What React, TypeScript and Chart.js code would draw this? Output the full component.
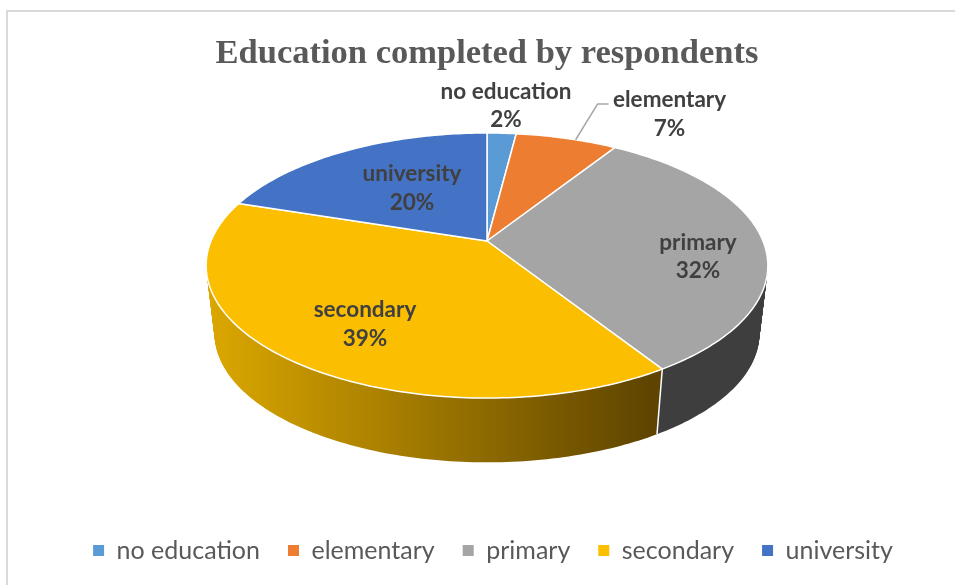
import React, { useEffect, useRef } from "react";
import { Chart, registerables } from "chart.js";

Chart.register(...registerables);

const categories = ["no education", "elementary", "primary", "secondary", "university"];
const shares = [2, 7, 32, 39, 20];
const sliceColors = ["#5B9BD5", "#ED7D31", "#A5A5A5", "#FBBE00", "#4472C4"];
// Side wall colours: left and right ends of the horizontal shading, per slice.
const wallLeft = ["#3A6A96", "#A65A22", "#444444", "#DCA800", "#30508A"];
const wallRight = ["#3A6A96", "#A65A22", "#3E3E3E", "#5E4400", "#30508A"];
const chartTitle = "Education completed by respondents";

// Geometry of the tilted disc, in canvas pixels.
const CX = 487;
const CY = 241;
const RX = 276;
const RY = 128;
const PERSPECTIVE = -0.185;
const DEPTH = 69;
const BOTTOM_SCALE = 0.97;
const WALL_LEFT_X = 205;
const WALL_RIGHT_X = 652;

// Label placement per slice: angle offset from the slice middle (degrees), radial fraction.
const labelTurn = [0.1, 13.7, 8.5, -3.2, 3.2];
const labelRadius = [1.326, 1.47, 0.757, 0.696, 0.544];
const LABEL_FONT = "bold 22.5px Lato";
const LABEL_COLOR = "#404040";
const LINE_GAP = 28.5;

function project(theta: number, t: number, level: number) {
  const u = t * Math.sin(theta);
  const v = -t * Math.cos(theta);
  const d = 1 + PERSPECTIVE * v;
  const s = 1 - (1 - BOTTOM_SCALE) * level;
  return {
    x: CX + (s * RX * u) / d,
    y: CY + (s * RY * v) / d + DEPTH * level,
  };
}

function slicePath(ctx: CanvasRenderingContext2D, a: number, b: number, level: number) {
  const c = project(0, 0, level);
  ctx.beginPath();
  ctx.moveTo(c.x, c.y);
  const steps = Math.max(2, Math.ceil(((b - a) * 180) / Math.PI));
  for (let i = 0; i <= steps; i++) {
    const p = project(a + ((b - a) * i) / steps, 1, level);
    ctx.lineTo(p.x, p.y);
  }
  ctx.closePath();
}

const tiltedPie = {
  id: "tiltedPie",
  afterLayout(chart: any) {
    // The legend row sits a little to the right of the title's centre.
    chart.legend.left += 6;
    chart.legend.right += 6;
  },
  beforeDraw(chart: any) {
    const { ctx, width, height } = chart;
    ctx.save();
    ctx.fillStyle = "#FFFFFF";
    ctx.fillRect(0, 0, width, height);
    ctx.strokeStyle = "#D9D9D9";
    ctx.lineWidth = 2;
    ctx.beginPath();
    ctx.moveTo(7, height);
    ctx.lineTo(7, 11);
    ctx.lineTo(width, 11);
    ctx.stroke();
    ctx.restore();
  },
  beforeDatasetDraw(chart: any) {
    const { ctx } = chart;
    const arcs = chart.getDatasetMeta(0).data;
    const spans = arcs.map((arc: any) => [arc.startAngle + Math.PI / 2, arc.endAngle + Math.PI / 2]);

    ctx.save();
    // Extruded wall: stacked copies of every slice from the bottom rim upward.
    const fills = spans.map((_: any, i: number) => {
      const g = ctx.createLinearGradient(WALL_LEFT_X, 0, WALL_RIGHT_X, 0);
      g.addColorStop(0, wallLeft[i]);
      g.addColorStop(1, wallRight[i]);
      return g;
    });
    for (let layer = DEPTH; layer >= 1; layer--) {
      spans.forEach(([a, b]: number[], i: number) => {
        slicePath(ctx, a, b, layer / DEPTH);
        ctx.fillStyle = fills[i];
        ctx.fill();
      });
    }

    // Seams between neighbouring walls on the near side.
    ctx.strokeStyle = "#FFFFFF";
    ctx.lineWidth = 1.5;
    spans.forEach(([a]: number[]) => {
      if (-Math.cos(a) > 0.1) {
        const top = project(a, 1, 0);
        const bottom = project(a, 1, 1);
        ctx.beginPath();
        ctx.moveTo(top.x, top.y);
        ctx.lineTo(bottom.x, bottom.y);
        ctx.stroke();
      }
    });

    // Top face.
    spans.forEach(([a, b]: number[], i: number) => {
      slicePath(ctx, a, b, 0);
      ctx.fillStyle = sliceColors[i];
      ctx.fill();
      ctx.strokeStyle = "#FFFFFF";
      ctx.lineWidth = 1.5;
      ctx.lineJoin = "round";
      ctx.stroke();
    });

    // Leader line for the label that sits away from its slice.
    const mid = (spans[1][0] + spans[1][1]) / 2 + 0.04;
    const from = project(mid, 1, 0);
    const anchor = project(mid - 0.04 + (labelTurn[1] * Math.PI) / 180, labelRadius[1], 0);
    ctx.strokeStyle = "#A6A6A6";
    ctx.lineWidth = 1.5;
    ctx.beginPath();
    ctx.moveTo(from.x, from.y);
    ctx.lineTo(anchor.x - 72, anchor.y - 9);
    ctx.lineTo(anchor.x - 61, anchor.y - 9);
    ctx.stroke();

    // Category and share labels.
    ctx.font = LABEL_FONT;
    ctx.fillStyle = LABEL_COLOR;
    ctx.textAlign = "center";
    ctx.textBaseline = "middle";
    spans.forEach(([a, b]: number[], i: number) => {
      const theta = (a + b) / 2 + (labelTurn[i] * Math.PI) / 180;
      const p = project(theta, labelRadius[i], 0);
      ctx.fillText(categories[i], p.x, p.y + 1 - LINE_GAP / 2);
      ctx.fillText(`${shares[i]}%`, p.x, p.y + 1 + LINE_GAP / 2);
    });
    ctx.restore();
    return false;
  },
};

export default function App() {
  const ref = useRef<HTMLCanvasElement>(null);
  useEffect(() => {
    const chart = new Chart(ref.current!, {
      type: "pie",
      data: {
        labels: categories,
        datasets: [{ data: shares, backgroundColor: sliceColors, borderColor: "#FFFFFF", borderWidth: 0 }],
      },
      options: {
        animation: false,
        responsive: false,
        events: [],
        layout: { padding: { left: 19, bottom: 12, top: 33 } },
        plugins: {
          tooltip: { enabled: false },
          title: {
            display: true,
            text: chartTitle,
            color: "#595959",
            font: { family: "'Liberation Serif'", size: 34.5, weight: "bold" },
            padding: { top: 0, bottom: 8 },
          },
          legend: {
            position: "bottom",
            labels: {
              color: "#595959",
              font: { family: "Lato", size: 25 },
              boxWidth: 11,
              boxHeight: 11,
              padding: 28,
            },
          },
        },
      },
      plugins: [tiltedPie],
    } as any);
    return () => chart.destroy();
  }, []);
  return (
    <div style={{ position: "fixed", left: 0, top: 0, width: 955, height: 585 }}>
      <canvas ref={ref} width={955} height={585} style={{ display: "block" }} />
    </div>
  );
}
